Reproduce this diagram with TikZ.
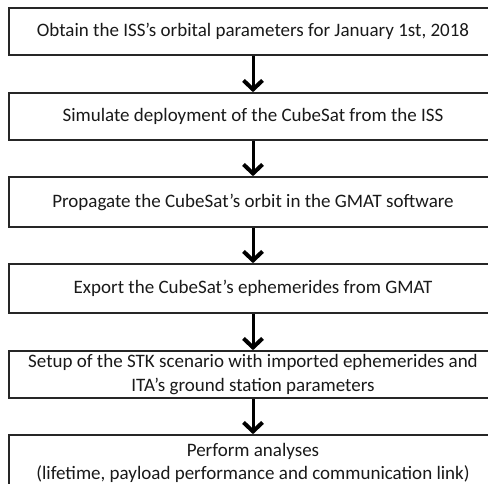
\documentclass[tikz,border=0pt]{standalone}
\usepackage{fontspec}
\setmainfont{Carlito}
\usetikzlibrary{arrows.meta}
\begin{document}
\begin{tikzpicture}[x=1pt,y=-1pt,
  stepbox/.style={draw=black!85, line width=1.6pt, rectangle, minimum width=488pt, align=center,
    font=\fontsize{19}{23.5}\selectfont, text=black!90, inner sep=0pt},
  flow/.style={line width=3pt, draw=black, -{Straight Barb[length=9pt,width=19pt,line width=4pt]}}]
\useasboundingbox (0,0) rectangle (488,484);
\node[stepbox, minimum height=47pt] (s1) at (253,31.5) {Obtain the ISS’s orbital parameters for January 1st, 2018};
\node[stepbox, minimum height=47pt] (s2) at (253,116.5) {Simulate deployment of the CubeSat from the ISS};
\node[stepbox, minimum height=50pt] (s3) at (253,202) {Propagate the CubeSat’s orbit in the GMAT software};
\node[stepbox, minimum height=49pt] (s4) at (253,288.5) {Export the CubeSat’s ephemerides from GMAT};
\node[stepbox, minimum height=47pt] (s5) at (253,374.5) {Setup of the STK scenario with imported ephemerides and\\ITA’s ground station parameters};
\node[stepbox, minimum height=56pt] (s6) at (253,463) {Perform analyses\\(lifetime, payload performance and communication link)};
\draw[flow] (s1) -- (s2);
\draw[flow] (s2) -- (s3);
\draw[flow] (s3) -- (s4);
\draw[flow] (s4) -- (s5);
\draw[flow] (s5) -- (s6);
\end{tikzpicture}
\end{document}
